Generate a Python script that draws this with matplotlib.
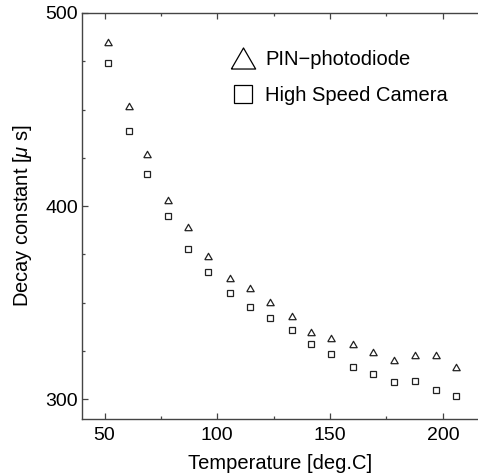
import matplotlib
matplotlib.use("Agg")
import matplotlib.pyplot as plt
from matplotlib.lines import Line2D

plt.rcParams["font.family"] = ["Liberation Sans", "DejaVu Sans"]
plt.rcParams["mathtext.fontset"] = "custom"
plt.rcParams["mathtext.it"] = "Liberation Sans:italic"
plt.rcParams["mathtext.rm"] = "Liberation Sans"

# temperature [deg.C]
temperature = [51.5, 61, 69, 78, 87, 96, 105.5, 114.5, 123.5, 133,
               141.5, 150.5, 160, 169, 178.5, 187.5, 197, 206]
# decay constant [us]
pin_photodiode = [485, 452, 427, 403, 389, 374, 363, 357.7, 350.6, 343,
                  335, 331.6, 328.8, 324.3, 320.5, 323.1, 323.1, 317]
high_speed_camera = [474, 439, 416.6, 395, 378, 366, 355, 348, 342, 336,
                     328.8, 323.6, 316.6, 313.3, 309.1, 309.3, 304.8, 302]

labels = ["PIN\u2212photodiode", "High Speed Camera"]

# equilateral-ish open triangle
tri = [(-1, -0.866), (1, -0.866), (0, 0.866), (-1, -0.866)]
edge = "#222222"
fs = 14.5

fig = plt.figure(figsize=(4.78, 4.76), dpi=100)
ax = fig.add_axes([0.1715, 0.1204, 1.0 - 0.1715, 0.9727 - 0.1204])

ax.plot(temperature, pin_photodiode, linestyle="none", marker=tri, ms=5.3,
        mfc="none", mec=edge, mew=0.9)
ax.plot(temperature, high_speed_camera, linestyle="none", marker="s", ms=4.9,
        mfc="none", mec=edge, mew=0.9)

ax.set_xlim(40, 215.6)
ax.set_ylim(290, 500)
ax.set_xticks([50, 100, 150, 200])
ax.set_xticks([75, 125, 175], minor=True)
ax.set_yticks([300, 400, 500])
ax.set_yticks([325, 350, 375, 425, 450, 475], minor=True)

ax.spines["right"].set_visible(False)
for s in ["left", "top", "bottom"]:
    ax.spines[s].set_color("#444444")
    ax.spines[s].set_linewidth(1.0)

ax.tick_params(which="both", direction="in", top=True, right=False,
               color="#444444", labelsize=14)
ax.tick_params(axis="x", pad=6)
ax.tick_params(axis="y", pad=3)
ax.tick_params(which="major", length=4, width=0.9)
ax.tick_params(which="minor", length=2.5, width=0.9)

ax.set_xlabel("Temperature [deg.C]", fontsize=fs, labelpad=7)
ax.set_ylabel("Decay constant [$\\mu$ s]", fontsize=fs, labelpad=8)

handles = [
    Line2D([], [], linestyle="none", marker=tri, ms=17.5, mfc="none", mec="black", mew=0.9),
    Line2D([], [], linestyle="none", marker="s", ms=12.5, mfc="none", mec="black", mew=0.9),
]
ax.legend(handles, labels, loc="upper left", bbox_to_anchor=(0.371, 0.909),
          frameon=False, fontsize=fs, handletextpad=0.4, labelspacing=0.85,
          handlelength=1.4, borderpad=0, borderaxespad=0)

fig.savefig("out.png", dpi=100)
